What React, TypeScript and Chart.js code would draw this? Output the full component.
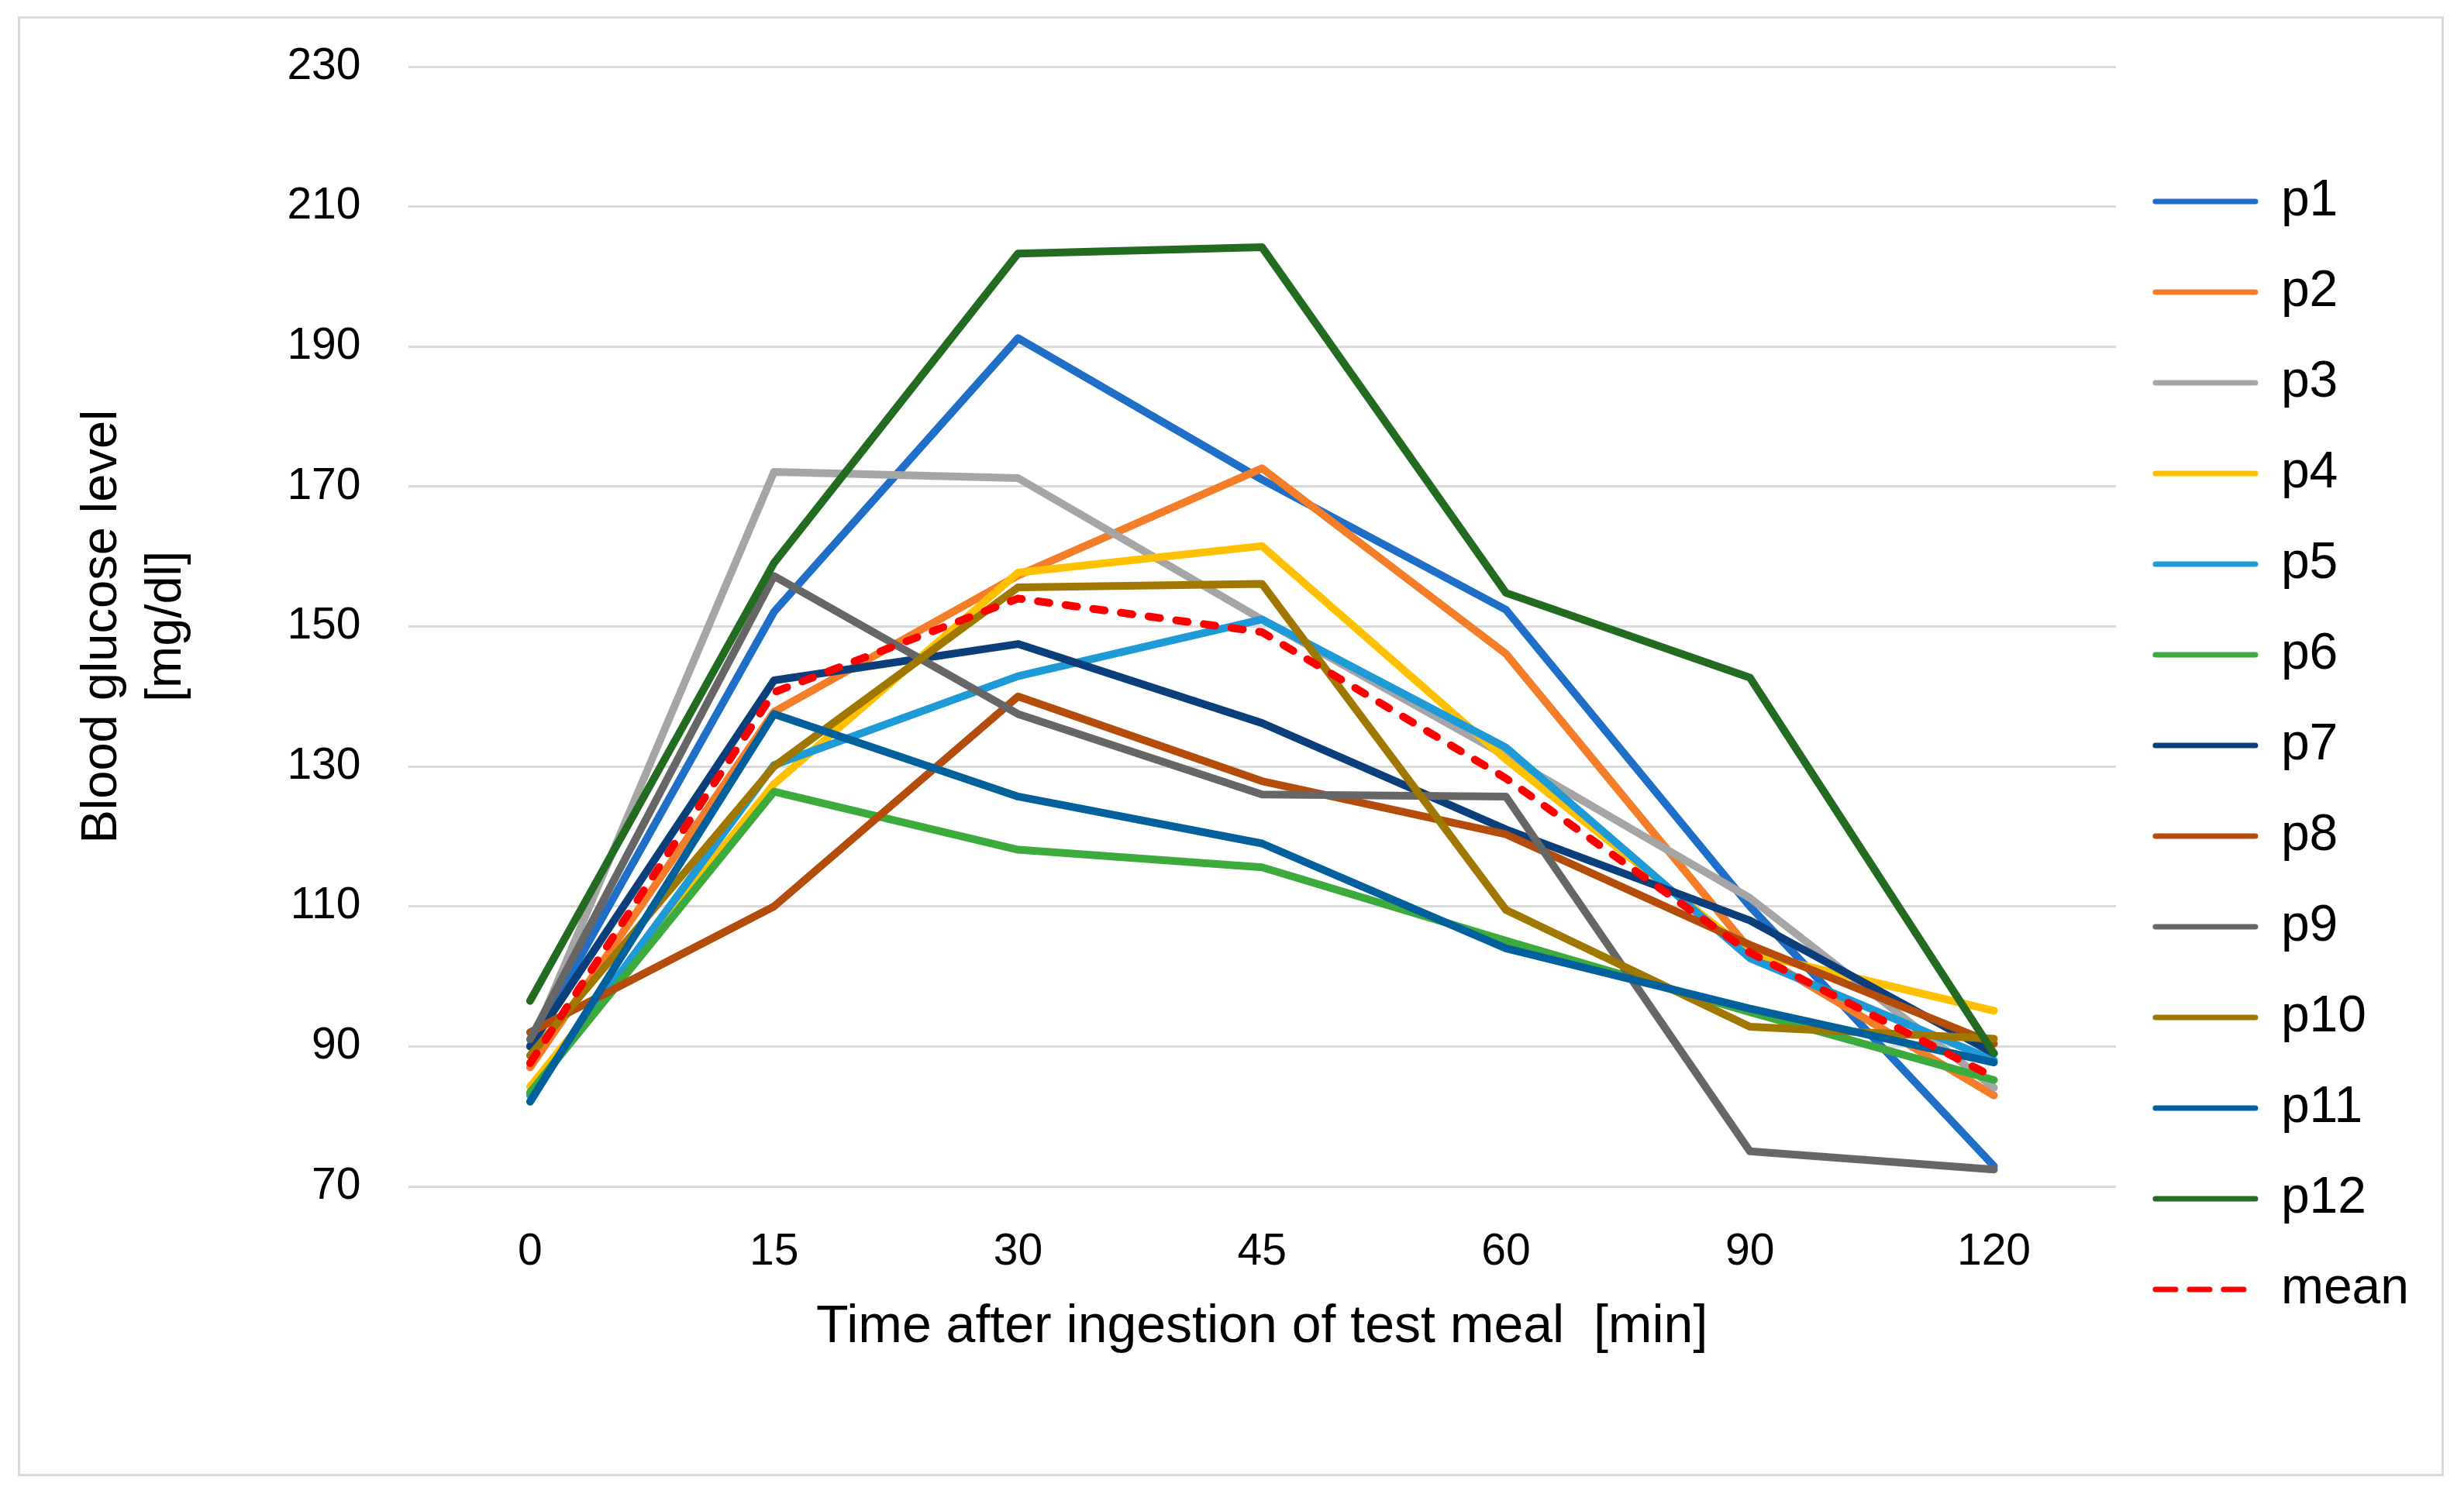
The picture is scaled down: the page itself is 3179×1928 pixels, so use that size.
import React, { useEffect, useRef } from 'react';
import { Chart, registerables } from 'chart.js';

Chart.register(...registerables);

const timeLabels = ['0', '15', '30', '45', '60', '90', '120'];

const p1 = [90, 152.1, 191.2, 171, 152.4, 110, 72.9];
const p2 = [87, 137.8, 157.3, 172.6, 146.1, 103.8, 83.0];
const p3 = [90, 172.1, 171.2, 151, 131.5, 111.2, 84.1];
const p4 = [84.2, 127.5, 157.7, 161.5, 131, 103.4, 95.1];
const p5 = [83, 130.2, 142.9, 151, 132.7, 102.6, 88];
const p6 = [83.4, 126.4, 118.1, 115.6, 105.1, 94.9, 85.2];
const p7 = [90, 142.3, 147.5, 136.2, 121, 108, 89];
const p8 = [92, 110, 140, 127.9, 120.3, 104.5, 90.4];
const p9 = [91, 157.2, 137.5, 126, 125.7, 75, 72.4];
const p10 = [88.7, 130, 155.6, 156.1, 109.5, 92.8, 91.1];
const p11 = [82.1, 137.5, 125.7, 119, 104, 95.4, 87.7];
const p12 = [96.5, 159.1, 203.3, 204.2, 154.8, 142.7, 89];
const meanValues = [87.6, 140.6, 154.0, 149.2, 128.3, 103.4, 85.6];

const seriesNames = ['p1', 'p2', 'p3', 'p4', 'p5', 'p6', 'p7', 'p8', 'p9', 'p10', 'p11', 'p12', 'mean'];
const seriesValues = [p1, p2, p3, p4, p5, p6, p7, p8, p9, p10, p11, p12, meanValues];
const seriesColors = [
  '#1F6FC8', '#F47D2A', '#A5A5A5', '#FFC000', '#1E9BD7', '#3DAA3D',
  '#0A3F7C', '#B44C0C', '#666666', '#A07800', '#02619C', '#236B21', '#FF0000',
];

const yTitle = ['Blood glucose level', '[mg/dl]'];
const xTitle = 'Time after ingestion of test meal  [min]';

const FONT = "'Liberation Sans', Arial, sans-serif";

export default function App() {
  const canvasRef = useRef<HTMLCanvasElement | null>(null);

  useEffect(() => {
    const canvas = canvasRef.current;
    if (!canvas) return;
    Chart.defaults.font.family = FONT;
    const n = seriesNames.length;
    const datasets = seriesNames.map((name, i) => {
      const isMean = name === 'mean';
      return {
        label: name,
        data: seriesValues[i],
        borderColor: seriesColors[i],
        backgroundColor: seriesColors[i],
        borderWidth: 10,
        pointRadius: 0,
        pointHoverRadius: 0,
        tension: 0,
        fill: false,
        borderCapStyle: 'round' as const,
        borderJoinStyle: 'round' as const,
        borderDash: isMean ? [15, 21] : [],
        order: n - i,
      };
    });

    const defaultGen = (Chart.defaults as any).plugins.legend.labels.generateLabels;

    const chart = new Chart(canvas, {
      type: 'line',
      data: { labels: timeLabels, datasets },
      options: {
        animation: false,
        responsive: false,
        devicePixelRatio: 1,
        layout: { padding: { top: 86, bottom: 90, left: 24, right: 61 } },
        plugins: {
          tooltip: { enabled: false },
          legend: {
            position: 'right',
            labels: {
              usePointStyle: true,
              pointStyle: 'line',
              pointStyleWidth: 129,
              boxWidth: 129,
              padding: 51,
              color: '#000',
              font: { family: FONT, size: 66 },
              sort: (a: any, b: any) => a.datasetIndex - b.datasetIndex,
              generateLabels: (c: any) => {
                const items = defaultGen(c);
                return items.map((item: any) => {
                  const ds = c.data.datasets[item.datasetIndex];
                  const dashed = ds.borderDash && ds.borderDash.length > 0;
                  return {
                    ...item,
                    strokeStyle: ds.borderColor,
                    lineWidth: 7,
                    lineCap: 'round',
                    lineDash: dashed ? [26, 18] : [],
                  };
                });
              },
            },
          },
        },
        scales: {
          x: {
            type: 'category',
            offset: true,
            grid: { display: false, drawTicks: false },
            border: { display: false },
            ticks: { color: '#000', font: { family: FONT, size: 57 }, padding: 51 },
            title: {
              display: true,
              text: xTitle,
              color: '#000',
              font: { family: FONT, size: 68 },
              padding: { top: -29, bottom: 84 },
            },
          },
          y: {
            min: 70,
            max: 230,
            grid: { color: '#d9d9d9', lineWidth: 3, drawTicks: false },
            border: { display: false },
            ticks: { stepSize: 20, color: '#000', font: { family: FONT, size: 57, lineHeight: 0.8 }, padding: 61 },
            title: {
              display: true,
              text: yTitle,
              color: '#000',
              font: { family: FONT, size: 65, lineHeight: 1.28 },
              padding: { top: 66, bottom: 53 },
            },
          },
        },
      },
    });
    return () => chart.destroy();
  }, []);

  return (
    <div style={{ position: 'absolute', left: 0, top: 0, width: 3179, height: 1928, background: '#fff' }}>
      <canvas ref={canvasRef} width={3179} height={1928} style={{ width: 3179, height: 1928, display: 'block' }} />
      <div
        style={{
          position: 'absolute', left: 23, top: 21, width: 3130, height: 1884,
          boxSizing: 'border-box', border: '3px solid #d9d9d9', pointerEvents: 'none',
        }}
      />
    </div>
  );
}
